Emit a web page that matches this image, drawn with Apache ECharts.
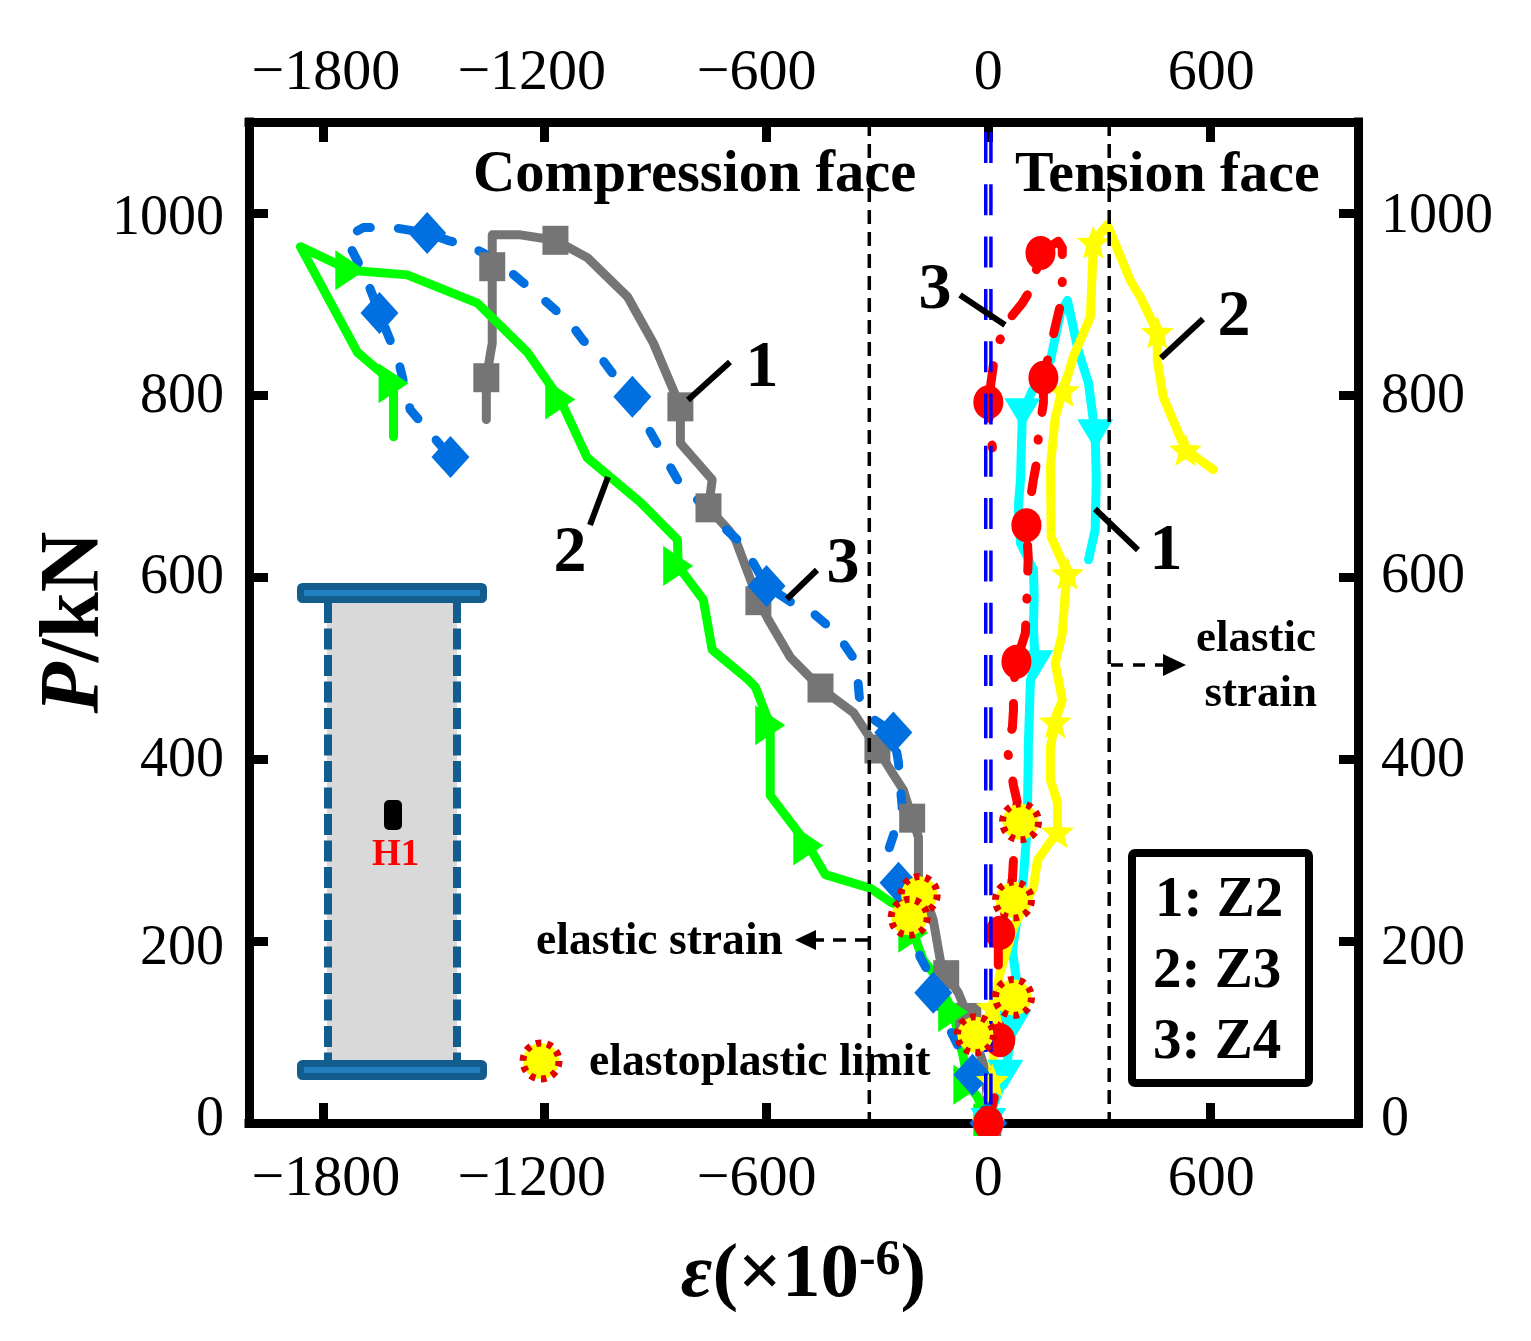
<!DOCTYPE html>
<html>
<head>
<meta charset="utf-8">
<script src="https://cdn.jsdelivr.net/npm/echarts@6/dist/echarts.min.js"></script>
<style>html,body{margin:0;padding:0;background:#fff}#c{width:1531px;height:1341px}</style>
</head>
<body>
<div id="c"></div>
<script>
const xTicks = [-1800, -1200, -600, 0, 600];
const yTicks = [0, 200, 400, 600, 800, 1000];

const grayX = [0,-8,-54,-81,-114,-130,-149,-189,-189,-206,-230,-265,-300,-365,-454,-536,-595,-622,-684,-703,-757,-747,-833,-833,-906,-976,-1085,-1171,-1266,-1342,-1342,-1342,-1358,-1358];
const grayY = [0,58,116,143,163,179,223,270,314,335,366,388,411,451,478,512,553,574,641,652,676,707,747,787,857,908,951,970,976,976,941,857,819,773];
const grayMarks = [0,2,4,9,12,14,17,20,23,27,30,32];

const greenX = [0,-30,-54,-68,-95,-149,-176,-203,-216,-265,-319,-441,-487,-590,-590,-630,-649,-747,-771,-839,-841,-941,-1085,-1158,-1247,-1382,-1572,-1726,-1861,-1707,-1609,-1609];
const greenY = [0,29,42,73,122,165,179,209,234,243,258,273,305,360,437,479,487,520,575,612,641,682,731,795,847,901,932,937,963,847,813,754];
const greenMarks = [0,2,4,7,12,14,19,23,27,30];

const blueX = [0,-43,-103,-149,-165,-184,-243,-270,-252,-233,-238,-243,-257,-319,-349,-354,-365,-392,-436,-473,-536,-600,-638,-679,-757,-787,-841,-922,-963,-1017,-1050,-1096,-1131,-1212,-1260,-1298,-1366,-1401,-1463,-1518,-1610,-1691,-1739,-1685,-1647,-1626,-1596,-1564,-1518,-1455];
const blueY = [0,53,102,143,168,182,264,300,322,347,369,396,429,446,468,492,511,527,547,560,573,590,617,641,670,685,707,765,798,824,842,860,879,908,924,937,956,963,970,978,984,984,973,930,890,868,838,784,762,732];
const blueMarks = [0,1,3,6,12,21,28,39,44,49];

const cyanX = [0,5,46,51,68,81,65,95,105,108,108,114,127,122,124,122,87,81,87,92,119,168,195,214,243,271,289,292,289,271];
const cyanY = [0,11,53,69,108,143,190,270,325,399,413,487,503,545,578,608,637,677,707,780,805,838,890,904,849,813,757,707,652,619];
const cyanMarks = [0,2,4,12,19,26];

const yellowX = [0,11,14,11,32,68,122,133,187,187,168,168,181,200,181,200,208,214,170,168,181,203,230,276,281,284,322,384,411,457,457,473,533,609];
const yellowY = [0,47,84,127,165,215,259,289,320,352,377,413,441,465,505,538,582,604,644,721,776,805,842,886,934,968,987,926,908,869,838,798,740,718];
const yellowMarks = [0,1,3,8,12,17,21,25,29,32];

const redX = [0,19,16,32,41,27,27,32,65,68,78,68,60,46,65,68,68,76,100,103,105,108,103,122,133,135,149,149,160,181,195,200,200,189,141,119,92,54,19,0,3,11];
const redY = [0,33,60,91,121,168,190,209,267,289,353,371,393,419,434,454,479,507,538,562,586,622,657,707,731,754,791,819,838,875,899,923,962,969,956,919,901,882,849,792,765,742];
const redMarks = [0,3,7,17,22,27,34,39];

const limitX = [-187,-214,-35,87,68,68];
const limitY = [251,226,97,331,245,138];

const elasticBoundX = [-322, 327];
const zeroLineX = [-7, 7];
const axisMaxY = 1100;

const serif = '"Liberation Serif"';
const starPath = 'path://M12 0 L15.2 8.2 L24 8.8 L17.2 14.4 L19.4 23 L12 18.3 L4.6 23 L6.8 14.4 L0 8.8 L8.8 8.2 Z';

function pts(xs, ys, marks, sym) {
  return xs.map((x, i) => ({ value: [x, ys[i]], symbol: marks.includes(i) ? sym : 'none' }));
}
function curve(name, xs, ys, marks, color, sym, size, extra) {
  return Object.assign({
    name, type: 'line', xAxisIndex: 0, yAxisIndex: 0,
    data: pts(xs, ys, marks, sym), showAllSymbol: true, symbolSize: size, clip: false,
    itemStyle: { color, opacity: 1 }, animation: false, silent: true,
    lineStyle: { color, width: 9, join: 'round', cap: 'round' }
  }, extra || {});
}
function vline(name, x, topVal, color, width, dash) {
  return { name, type: 'line', z: 4, data: [[x, topVal], [x, 0]], symbol: 'none', clip: false, animation: false,
    silent: true, lineStyle: { color, width, type: dash, cap: 'butt' } };
}

const shift = { '-1800': 3, '-1200': -13, '-600': -10, '0': 0, '600': 1 };
const xRich = {};
xTicks.forEach(v => {
  const s = shift[v];
  xRich['k' + Math.abs(v) + (v < 0 ? 'n' : 'p')] = {
    fontFamily: serif, fontSize: 58, color: '#000',
    padding: [0, s < 0 ? -2 * s : 0, 0, s > 0 ? 2 * s : 0]
  };
});
const xFmt = v => `{k${Math.abs(v)}${v < 0 ? 'n' : 'p'}|${String(v).replace('-', '\u2212')}}`;

const leftNudge = { 0: -3, 200: 8, 400: 2, 600: 1, 800: 2, 1000: 6 };
const rightNudge = { 0: -3, 200: 8, 400: 2, 600: 0, 800: 2, 1000: 4 };
function yRich(prefix, nudge) {
  const r = {};
  yTicks.forEach(v => {
    const s = nudge[v];
    r[prefix + v] = { fontFamily: serif, fontSize: 56, color: '#000',
      padding: [s > 0 ? 2 * s : 0, 0, s < 0 ? -2 * s : 0, 0] };
  });
  return r;
}

function xAxis(position, margin, extra) {
  return Object.assign({
    type: 'value', position, min: -2000, max: 1000,
    axisLine: { show: true, onZero: false, lineStyle: { color: '#000', width: 9, cap: 'square' } },
    axisTick: { show: true, inside: true, length: 20, customValues: xTicks, lineStyle: { color: '#000', width: 9 } },
    axisLabel: { show: true, margin, customValues: xTicks, formatter: xFmt, rich: xRich },
    splitLine: { show: false }
  }, extra || {});
}
function yAxis(position, margin, prefix, nudge, align) {
  return {
    type: 'value', position, min: 0, max: axisMaxY,
    axisLine: { show: true, onZero: false, lineStyle: { color: '#000', width: 9, cap: 'square' } },
    axisTick: { show: true, inside: true, length: 19, customValues: yTicks, lineStyle: { color: '#000', width: 9 } },
    axisLabel: { show: true, margin, customValues: yTicks, align,
      formatter: v => `{${prefix}${v}|${v}}`, rich: yRich(prefix, nudge) },
    splitLine: { show: false }
  };
}

// annotation helpers (pixel placed decoration: inset sketch, callouts, legend box)
function txt(text, x, base, size, align, color) {
  return { type: 'text', z: 50, silent: true, style: {
    text, x, y: base - size * 0.27, align: align || 'left', verticalAlign: 'middle',
    font: `bold ${size}px ${serif}`, fill: color || '#000' } };
}
function seg(x1, y1, x2, y2, w, dash) {
  return { type: 'line', z: 50, silent: true, shape: { x1, y1, x2, y2 },
    style: { stroke: '#000', lineWidth: w || 6, lineDash: dash || null } };
}
function tri(points) {
  return { type: 'polygon', z: 50, silent: true, shape: { points }, style: { fill: '#000' } };
}
function plate(y) {
  return { type: 'rect', z: 20, silent: true, shape: { x: 300.5, y: y, width: 183, height: 13, r: 2 },
    style: { fill: '#2280c0', stroke: '#125d8e', lineWidth: 7 } };
}
const graphics = [
  { type: 'rect', z: 19, silent: true, shape: { x: 327, y: 600, width: 130, height: 462 }, style: { fill: '#d9d9d9' } },
  { type: 'line', z: 19, silent: true, shape: { x1: 328, y1: 602, x2: 328, y2: 1060 }, style: { stroke: '#125d8e', lineWidth: 8, lineDash: [21, 5.5] } },
  { type: 'line', z: 19, silent: true, shape: { x1: 457, y1: 602, x2: 457, y2: 1060 }, style: { stroke: '#125d8e', lineWidth: 8, lineDash: [21, 5.5] } },
  plate(586.5), plate(1063.5),
  { type: 'rect', z: 20, silent: true, shape: { x: 384, y: 800, width: 18, height: 30, r: 5 }, style: { fill: '#000' } },
  txt('H1', 372, 865, 37, 'left', '#ff0000'),

  txt('Compression face', 473, 192, 58.6),
  txt('Tension face', 1015, 192, 57.8),
  txt('elastic strain', 536, 955, 45.6),
  txt('elastic', 1316, 652, 45, 'right'),
  txt('strain', 1317, 707, 45, 'right'),
  txt('elastoplastic limit', 589, 1076, 45.7),

  txt('1', 762, 387, 66, 'center'),
  txt('2', 570, 572, 66, 'center'),
  txt('3', 843, 583, 66, 'center'),
  txt('3', 935, 309, 66, 'center'),
  txt('2', 1234, 336, 66, 'center'),
  txt('1', 1166, 570, 66, 'center'),

  seg(688, 400, 730, 362), seg(590, 525, 608, 477), seg(787, 599, 817, 570),
  seg(960, 295, 1005, 325), seg(1161, 358, 1203, 319), seg(1095, 509, 1138, 550),

  seg(868, 940, 815, 940, 3.5, [13, 9]),
  tri([[795, 940], [816, 930], [816, 950]]),
  seg(1111, 665, 1165, 665, 3.5, [12, 10]),
  tri([[1186, 665], [1163, 654], [1163, 676]]),

  { type: 'circle', z: 40, silent: true, shape: { cx: 541, cy: 1061, r: 18 },
    style: { fill: '#ffff00', stroke: '#e00000', lineWidth: 7, lineDash: [5.5, 5.8] } },

  { type: 'rect', z: 30, silent: true, shape: { x: 1132, y: 853, width: 177, height: 230, r: 3 },
    style: { fill: '#fff', stroke: '#000', lineWidth: 8 } },
  txt('1: Z2', 1155, 917, 57),
  txt('2: Z3', 1153, 988, 57),
  txt('3: Z4', 1153, 1059, 57),

  { type: 'rect', z: 60, silent: true, shape: { x: 1491, y: 150, width: 40, height: 120 }, style: { fill: '#fff' } },
  { type: 'rect', z: 60, silent: true, shape: { x: 955, y: 1136, width: 66, height: 14 }, style: { fill: '#fff' } }
];

const yLeft = yAxis('left', 25, 'l', leftNudge, 'right');
yLeft.name = '{p|P}{b|/kN}';
yLeft.nameLocation = 'middle';
yLeft.nameGap = 131;
yLeft.nameMoveOverlap = false;
yLeft.nameRotate = 90;
yLeft.nameTextStyle = { rich: {
  p: { fontFamily: serif, fontSize: 84, fontWeight: 'bold', fontStyle: 'italic', color: '#000' },
  b: { fontFamily: serif, fontSize: 84, fontWeight: 'bold', color: '#000' }
} };

const option = {
  animation: false,
  backgroundColor: '#fff',
  grid: { left: 249, right: 173, top: 122, bottom: 218, containLabel: false, outerBoundsMode: 'none' },
  xAxis: [
    xAxis('bottom', 28, {
      name: '{e|\u03b5}{b|(\u00d710}{s|-6}{b|)}', nameLocation: 'middle', nameGap: 113,
      nameTextStyle: { rich: {
        e: { fontFamily: serif, fontSize: 77, fontWeight: 'bold', fontStyle: 'italic', color: '#000' },
        b: { fontFamily: serif, fontSize: 77, fontWeight: 'bold', color: '#000' },
        s: { fontFamily: serif, fontSize: 50, fontWeight: 'bold', color: '#000', padding: [0, 0, 30, 0] }
      } }
    }),
    xAxis('top', 19)
  ],
  yAxis: [ yLeft, yAxis('right', 23, 'r', rightNudge, 'left') ],
  graphic: graphics,
  series: [
    curve('Z2 compression', grayX, grayY, grayMarks, '#757575', 'rect', [26, 29]),
    curve('Z3 compression', greenX, greenY, greenMarks, '#00ff00', 'triangle', [40, 30], { symbolRotate: -90 }),
    curve('Z4 compression', blueX, blueY, blueMarks, '#0070e0', 'diamond', [38, 42], {
      lineStyle: { color: '#0070e0', width: 9, type: [14, 28], cap: 'round', join: 'round' } }),
    curve('Z2 tension', cyanX, cyanY, cyanMarks, '#00ffff', 'triangle', [36, 30], { symbolRotate: 180 }),
    curve('Z3 tension', yellowX, yellowY, yellowMarks, '#ffff00', starPath, [33, 33]),
    curve('Z4 tension', redX, redY, redMarks, '#ff0000', 'circle', [30, 34], {
      lineStyle: { color: '#ff0000', width: 9, type: [26, 26, 1, 27], cap: 'round', join: 'round' } }),
    vline('zero left', zeroLineX[0], 1089, '#0000ff', 3.5, [31, 21.3]),
    vline('zero right', zeroLineX[1], 1089, '#0000ff', 3.5, [31, 21.3]),
    vline('elastic limit compression', elasticBoundX[0], axisMaxY, '#000', 3.5, [14, 8]),
    vline('elastic limit tension', elasticBoundX[1], axisMaxY, '#000', 3.5, [14, 8]),
    {
      name: 'elastoplastic limit', type: 'scatter', z: 6, clip: false, animation: false, silent: true,
      data: limitX.map((x, i) => [x, limitY[i]]),
      symbol: 'circle', symbolSize: 36,
      itemStyle: { color: '#ffff00', opacity: 1, borderColor: '#e00000', borderWidth: 7, borderType: [5.5, 5.8] }
    }
  ]
};
echarts.init(document.getElementById('c'), null, { renderer: 'canvas' }).setOption(option);
</script>
</body>
</html>
